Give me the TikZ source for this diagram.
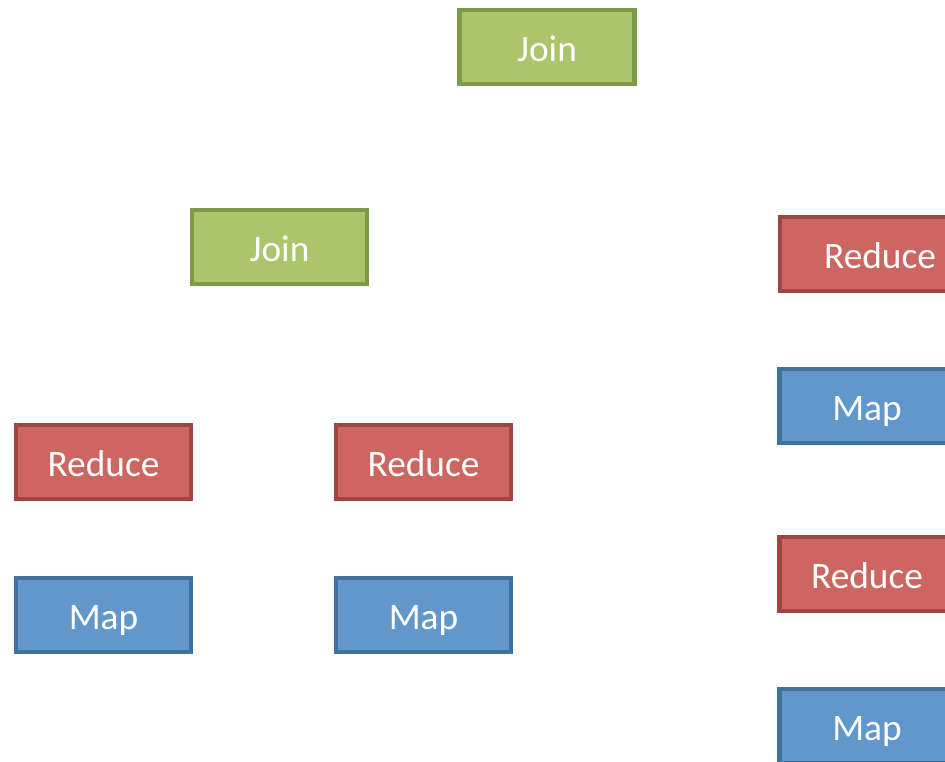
\documentclass[tikz,border=0pt]{standalone}
\usepackage{fontspec}
\setmainfont{Carlito}
\definecolor{joinfill}{RGB}{171,197,107}
\definecolor{joinline}{RGB}{126,154,73}
\definecolor{redfill}{RGB}{205,102,96}
\definecolor{redline}{RGB}{160,69,65}
\definecolor{mapfill}{RGB}{97,151,203}
\definecolor{mapline}{RGB}{65,113,156}
\begin{document}
\begin{tikzpicture}[x=0.75pt,y=-0.75pt,
  box/.style={rectangle,line width=3.4pt,minimum width=175*0.75pt,minimum height=74*0.75pt,
    inner sep=0pt,text height=22pt,text depth=0pt,text=white,
    font=\fontsize{28}{33}\selectfont},
  joinbox/.style={box,fill=joinfill,draw=joinline},
  redbox/.style={box,fill=redfill,draw=redline},
  mapbox/.style={box,fill=mapfill,draw=mapline}]
\useasboundingbox (0,0) rectangle (945,761);
\clip (0,0) rectangle (945,761);
% upper joins
\node[joinbox] (join1) at (547,47) {Join};
\node[joinbox] (join2) at (279.5,247) {Join};
% left and middle branches
\node[redbox] (red1) at (103.5,462) {Reduce};
\node[redbox] (red2) at (423.5,462) {Reduce};
\node[mapbox] (map1) at (103.5,615) {Map};
\node[mapbox] (map2) at (423.5,615) {Map};
% right column
\node[redbox,minimum width=200*0.75pt] (red3) at (880,254) {Reduce};
\node[mapbox] (map3) at (867,406) {Map};
\node[redbox] (red4) at (867,574) {Reduce};
\node[mapbox] (map4) at (867,726) {Map};
\end{tikzpicture}
\end{document}
